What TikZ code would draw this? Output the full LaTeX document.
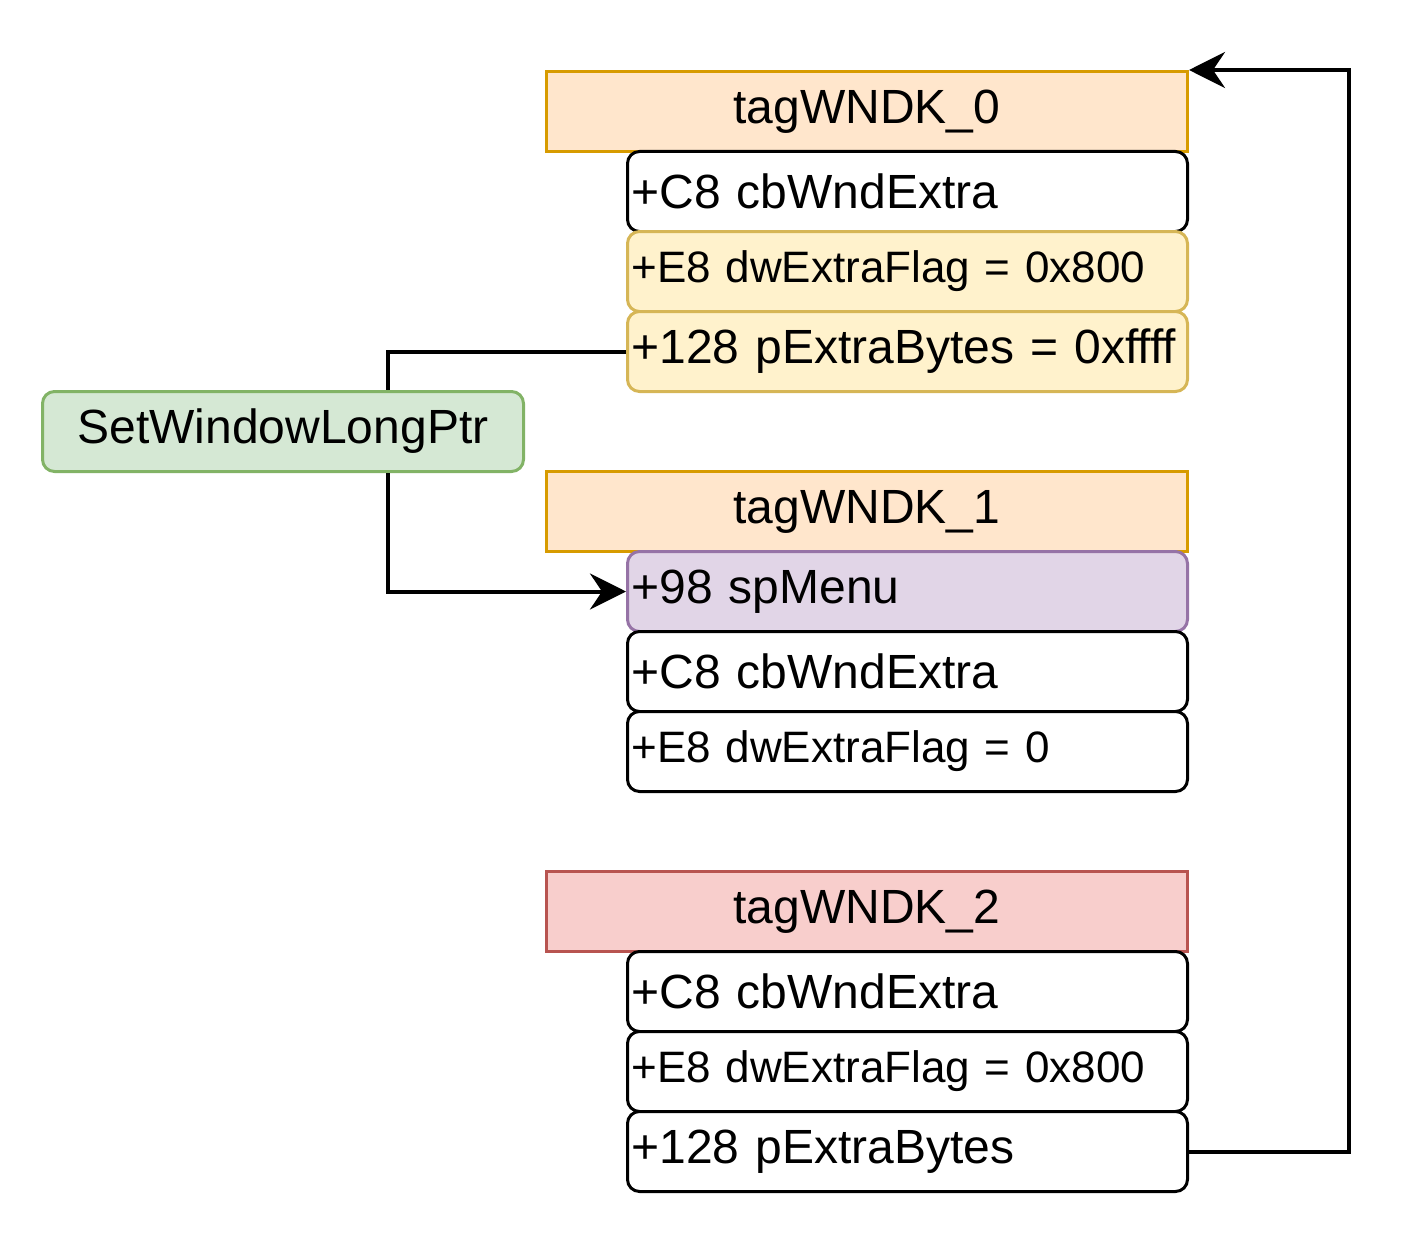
\documentclass[tikz,border=0pt]{standalone}
\usepackage{fontspec}
\setmainfont{Liberation Sans}
\usetikzlibrary{arrows.meta}
\definecolor{orF}{HTML}{FFE6CC}\definecolor{orS}{HTML}{D79B00}
\definecolor{yeF}{HTML}{FFF2CC}\definecolor{yeS}{HTML}{D6B656}
\definecolor{grF}{HTML}{D5E8D4}\definecolor{grS}{HTML}{82B366}
\definecolor{puF}{HTML}{E1D5E7}\definecolor{puS}{HTML}{9673A6}
\definecolor{reF}{HTML}{F8CECC}\definecolor{reS}{HTML}{B85450}
\begin{document}
\begin{tikzpicture}[x=0.5pt,y=-0.5pt,
  txt/.style={font=\fontsize{24}{28}\selectfont},
  small/.style={font=\fontsize{22}{26}\selectfont},
  hdr/.style={txt, draw, line width=1.5pt, minimum width=320.5pt, minimum height=40pt, inner sep=0pt, anchor=north west},
  fld/.style={txt, draw, line width=1.5pt, rounded corners=6pt, text width=276pt, inner xsep=2pt, inner ysep=0pt, minimum height=40pt, anchor=north west, align=left, fill=white},
  conn/.style={line width=2pt, draw=black},
  tip/.style={-{Stealth[length=18pt,width=18pt,inset=6pt]}}]
\useasboundingbox (0,0) rectangle (1420,1236);
% tagWNDK_0
\node[hdr, fill=orF, draw=orS] (h0) at (545,70) {tagWNDK\_0};
\node[fld] (a0) at (626,150) {+C8 cbWndExtra};
\node[fld, small, fill=yeF, draw=yeS] (f0) at (626,230) {+E8 dwExtraFlag = 0x800};
\node[fld, fill=yeF, draw=yeS] (p0) at (626,310) {\mbox{+128 pExtraBytes = 0xffff}};
% SetWindowLongPtr
\node[txt, draw=grS, fill=grF, line width=1.5pt, rounded corners=6pt, minimum width=240.5pt, minimum height=40pt, inner sep=0pt, anchor=north west] (swl) at (41,390) {SetWindowLongPtr};
% tagWNDK_1
\node[hdr, fill=orF, draw=orS] (h1) at (545,470) {tagWNDK\_1};
\node[fld, fill=puF, draw=puS] (m1) at (626,550) {+98 spMenu};
\node[fld] (a1) at (626,630) {+C8 cbWndExtra};
\node[fld, small] (f1) at (626,710) {+E8 dwExtraFlag = 0};
% tagWNDK_2
\node[hdr, fill=reF, draw=reS] (h2) at (545,870) {tagWNDK\_2};
\node[fld] (a2) at (626,950) {+C8 cbWndExtra};
\node[fld, small] (f2) at (626,1030) {+E8 dwExtraFlag = 0x800};
\node[fld] (p2) at (626,1110) {+128 pExtraBytes};
% connectors
\draw[conn] (p0.west) -| ([xshift=52.25pt]swl.north);
\draw[conn, tip] ([xshift=52.25pt]swl.south) |- (m1.west);
\draw[conn, tip] (p2.east) -- ++(160,0) |- (h0.north east);
\end{tikzpicture}
\end{document}
